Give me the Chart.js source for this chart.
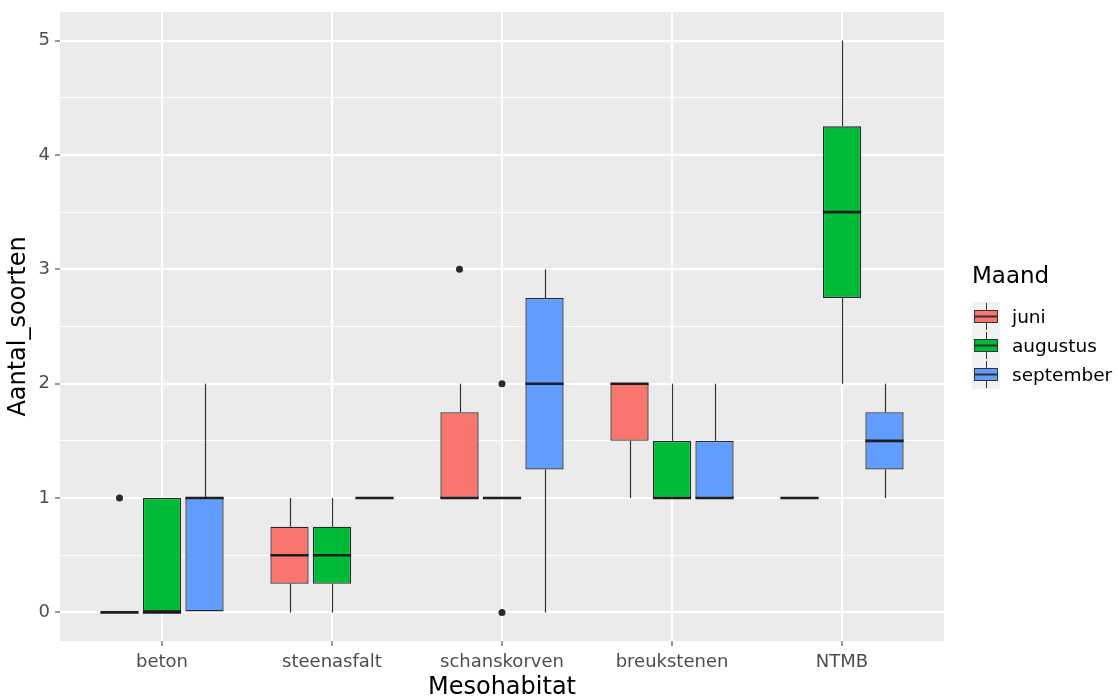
<!DOCTYPE html>
<html>
<head>
<meta charset="utf-8">
<title>Aantal soorten per mesohabitat</title>
<script src="https://cdn.jsdelivr.net/npm/chart.js@4.4.1/dist/chart.umd.min.js"></script>
<style>
  html, body { margin: 0; padding: 0; background: #fff; }
  #wrap { position: relative; width: 1118px; height: 700px; font-family: "DejaVu Sans", sans-serif; }
  #legend { position: absolute; left: 972px; top: 258px; color: #000; }
  #legend .title { font-size: 23px; line-height: 34px; height: 34px; margin-bottom: 10px; }
  #legend .item { display: flex; align-items: center; height: 29px; }
  #legend canvas { display: block; margin-right: 12px; }
  #legend .label { font-size: 18.5px; }
</style>
</head>
<body>
<div id="wrap">
  <canvas id="chart-boxplot" width="1118" height="700"></canvas>
  <div id="legend"></div>
</div>
<script>
const categories = ["beton", "steenasfalt", "schanskorven", "breukstenen", "NTMB"];
const months = ["juni", "augustus", "september"];
const monthColors = ["#F8766D", "#00BA38", "#619CFF"];
const yTicks = [0, 1, 2, 3, 4, 5];

// per maand, per mesohabitat: onderste snor, Q1, mediaan, Q3, bovenste snor
const juniLow = [0, 0, 1, 1, 1];
const juniQ1 = [0, 0.25, 1, 1.5, 1];
const juniMedian = [0, 0.5, 1, 2, 1];
const juniQ3 = [0, 0.75, 1.75, 2, 1];
const juniHigh = [0, 1, 2, 2, 1];
const juniOutliers = [["beton", 1], ["schanskorven", 3]];

const augustusLow = [0, 0, 1, 1, 2];
const augustusQ1 = [0, 0.25, 1, 1, 2.75];
const augustusMedian = [0, 0.5, 1, 1, 3.5];
const augustusQ3 = [1, 0.75, 1, 1.5, 4.25];
const augustusHigh = [1, 1, 1, 2, 5];
const augustusOutliers = [["schanskorven", 2], ["schanskorven", 0]];

const septemberLow = [0, 1, 0, 1, 1];
const septemberQ1 = [0, 1, 1.25, 1, 1.25];
const septemberMedian = [1, 1, 2, 1, 1.5];
const septemberQ3 = [1, 1, 2.75, 1.5, 1.75];
const septemberHigh = [2, 1, 3, 2, 2];
const septemberOutliers = [];

const boxStats = [
  { low: juniLow, q1: juniQ1, median: juniMedian, q3: juniQ3, high: juniHigh, outliers: juniOutliers },
  { low: augustusLow, q1: augustusQ1, median: augustusMedian, q3: augustusQ3, high: augustusHigh, outliers: augustusOutliers },
  { low: septemberLow, q1: septemberQ1, median: septemberMedian, q3: septemberQ3, high: septemberHigh, outliers: septemberOutliers },
];

const LINE = "#333333";
const TICK_TEXT = "#4D4D4D";
const FONT = "'DejaVu Sans', sans-serif";

// dodge: 3 boxes in 0.75 of a category slot
function dodgeX(catIndex, monthIndex) {
  return catIndex + 1 + (monthIndex - 1) * 0.25;
}

const boxDatasets = months.map((month, m) => ({
  type: "bar",
  label: month,
  data: categories.map((c, i) => ({ x: dodgeX(i, m), y: [boxStats[m].q1[i], boxStats[m].q3[i]] })),
  backgroundColor: monthColors[m],
  borderColor: "#2A2A2A",
  borderWidth: 1.3,
  borderSkipped: false,
  grouped: false,
  categoryPercentage: 1,
  barPercentage: 0.9,
  order: 2,
}));

const outlierPoints = [];
boxStats.forEach((s, m) => {
  s.outliers.forEach(([cat, value]) => {
    outlierPoints.push({ x: dodgeX(categories.indexOf(cat), m), y: value });
  });
});

const outlierDataset = {
  type: "scatter",
  label: "uitschieters",
  data: outlierPoints,
  pointRadius: 3.5,
  pointBackgroundColor: "#2A2A2A",
  pointBorderWidth: 0,
  order: 0,
};

const panelBackground = {
  id: "panelBackground",
  beforeDraw(chart) {
    const { ctx, chartArea: a } = chart;
    ctx.save();
    ctx.fillStyle = "#EBEBEB";
    ctx.fillRect(a.left, a.top, a.right - a.left, a.bottom - a.top);
    ctx.restore();
  },
};

// whiskers behind the boxes, medians on top
const boxParts = {
  id: "boxParts",
  beforeDatasetsDraw(chart) {
    const { ctx } = chart;
    const y = chart.scales.y;
    ctx.save();
    ctx.strokeStyle = LINE;
    ctx.lineWidth = 1.2;
    months.forEach((month, m) => {
      const meta = chart.getDatasetMeta(m);
      meta.data.forEach((el, i) => {
        const s = boxStats[m];
        const x = Math.round(el.x) + 0.5;
        ctx.beginPath();
        ctx.moveTo(x, y.getPixelForValue(s.low[i]));
        ctx.lineTo(x, y.getPixelForValue(s.q1[i]));
        ctx.moveTo(x, y.getPixelForValue(s.q3[i]));
        ctx.lineTo(x, y.getPixelForValue(s.high[i]));
        ctx.stroke();
      });
    });
    ctx.restore();
  },
  afterDatasetsDraw(chart) {
    const { ctx } = chart;
    const y = chart.scales.y;
    ctx.save();
    ctx.strokeStyle = "#1E1E1E";
    ctx.lineWidth = 2.6;
    months.forEach((month, m) => {
      const meta = chart.getDatasetMeta(m);
      meta.data.forEach((el, i) => {
        const py = y.getPixelForValue(boxStats[m].median[i]);
        ctx.beginPath();
        ctx.moveTo(el.x - el.width / 2, py);
        ctx.lineTo(el.x + el.width / 2, py);
        ctx.stroke();
      });
    });
    ctx.restore();
  },
};

const ctx = document.getElementById("chart-boxplot");
new Chart(ctx, {
  type: "bar",
  data: { datasets: [...boxDatasets, outlierDataset] },
  options: {
    responsive: false,
    animation: false,
    layout: { padding: { top: 12, right: 174, left: 0, bottom: 0 } },
    plugins: {
      legend: { display: false },
      tooltip: { enabled: false },
    },
    scales: {
      x: {
        type: "linear",
        min: 0.4,
        max: 5.6,
        offset: false,
        afterBuildTicks: (scale) => {
          scale.ticks = categories.map((c, i) => ({ value: i + 1 }));
        },
        afterFit: (scale) => {
          scale.height = 59;
          scale.paddingLeft = 0;
          scale.paddingRight = 0;
        },
        ticks: {
          callback: (v) => categories[v - 1],
          autoSkip: false,
          maxRotation: 0,
          padding: 6,
          color: TICK_TEXT,
          font: { family: FONT, size: 18 },
        },
        grid: {
          offset: false,
          color: "#FFFFFF",
          lineWidth: 2,
          tickColor: LINE,
          tickLength: 5,
          tickWidth: 1,
        },
        border: { display: false },
        title: {
          display: true,
          text: "Mesohabitat",
          color: "#000",
          font: { family: FONT, size: 24, lineHeight: 1 },
          padding: { top: 0, bottom: 0 },
        },
      },
      y: {
        min: -0.25,
        max: 5.25,
        afterBuildTicks: (scale) => {
          const ticks = [];
          yTicks.forEach((v, i) => {
            ticks.push({ value: v });
            if (i < yTicks.length - 1) ticks.push({ value: v + 0.5 });
          });
          scale.ticks = ticks;
        },
        afterFit: (scale) => {
          scale.width = 60;
          scale.paddingTop = 0;
          scale.paddingBottom = 0;
        },
        ticks: {
          callback: (v) => (Number.isInteger(v) ? v : ""),
          padding: 5,
          color: TICK_TEXT,
          font: { family: FONT, size: 18 },
        },
        grid: {
          color: "#FFFFFF",
          lineWidth: (c) => (Number.isInteger(c.tick.value) ? 2 : 1),
          tickColor: (c) => (Number.isInteger(c.tick.value) ? LINE : "rgba(0,0,0,0)"),
          tickLength: 5,
          tickWidth: 1,
        },
        border: { display: false },
        title: {
          display: true,
          text: "Aantal_soorten",
          color: "#000",
          font: { family: FONT, size: 24, lineHeight: 1 },
          padding: { top: 7, bottom: 0 },
        },
      },
    },
  },
  plugins: [panelBackground, boxParts],
});

function drawKey(canvas, color) {
  const g = canvas.getContext("2d");
  const w = canvas.width;
  const h = canvas.height;
  g.fillStyle = "#F2F2F2";
  g.fillRect(0, 0, w, h);
  g.strokeStyle = LINE;
  g.lineWidth = 1;
  g.beginPath();
  g.moveTo(w / 2 + 0.5, 1);
  g.lineTo(w / 2 + 0.5, h - 1);
  g.stroke();
  g.fillStyle = color;
  g.fillRect(2.5, 8.5, w - 5, 12);
  g.strokeRect(2.5, 8.5, w - 5, 12);
  g.lineWidth = 2;
  g.beginPath();
  g.moveTo(2.5, 14.5);
  g.lineTo(w - 2.5, 14.5);
  g.stroke();
}

const legend = document.getElementById("legend");
const title = document.createElement("div");
title.className = "title";
title.textContent = "Maand";
legend.appendChild(title);
months.forEach((month, m) => {
  const row = document.createElement("div");
  row.className = "item";
  const key = document.createElement("canvas");
  key.width = 28;
  key.height = 29;
  drawKey(key, monthColors[m]);
  const label = document.createElement("span");
  label.className = "label";
  label.textContent = month;
  row.appendChild(key);
  row.appendChild(label);
  legend.appendChild(row);
});
</script>
</body>
</html>
